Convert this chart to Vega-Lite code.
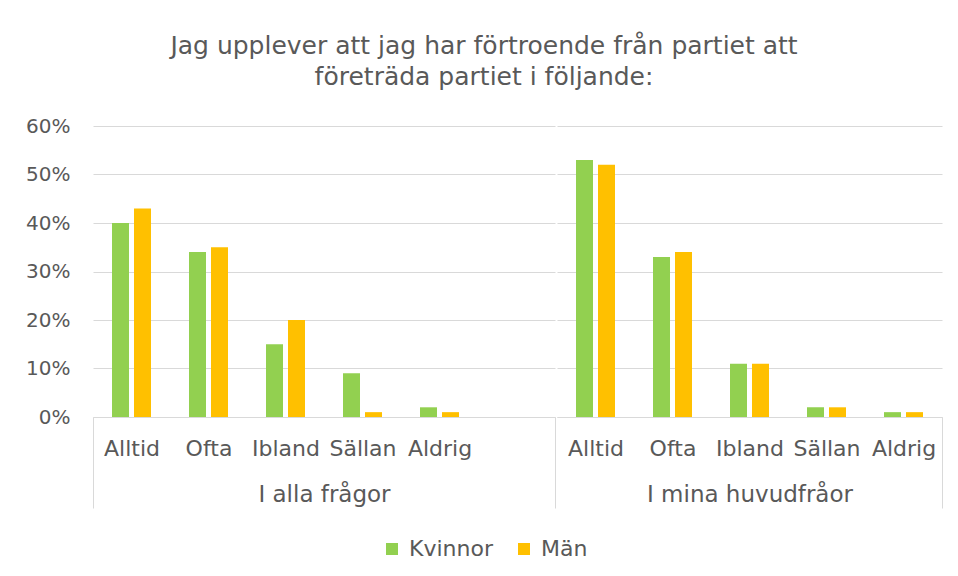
{
  "$schema": "https://vega.github.io/schema/vega-lite/v6.json",
  "background": "white",
  "padding": {"left": 25, "top": 34, "right": 18, "bottom": 10},
  "title": {
    "text": ["Jag upplever att jag har förtroende från partiet att", "företräda partiet i följande:"],
    "anchor": "middle",
    "fontSize": 25,
    "font": "DejaVu Sans",
    "fontWeight": "normal",
    "color": "#595959",
    "lineHeight": 31,
    "offset": 26
  },
  "data": {
    "values": [
      {"group": "I alla frågor", "cat": "Alltid", "sex": "Kvinnor", "value": 0.40},
      {"group": "I alla frågor", "cat": "Alltid", "sex": "Män", "value": 0.43},
      {"group": "I alla frågor", "cat": "Ofta", "sex": "Kvinnor", "value": 0.34},
      {"group": "I alla frågor", "cat": "Ofta", "sex": "Män", "value": 0.35},
      {"group": "I alla frågor", "cat": "Ibland", "sex": "Kvinnor", "value": 0.15},
      {"group": "I alla frågor", "cat": "Ibland", "sex": "Män", "value": 0.20},
      {"group": "I alla frågor", "cat": "Sällan", "sex": "Kvinnor", "value": 0.09},
      {"group": "I alla frågor", "cat": "Sällan", "sex": "Män", "value": 0.01},
      {"group": "I alla frågor", "cat": "Aldrig", "sex": "Kvinnor", "value": 0.02},
      {"group": "I alla frågor", "cat": "Aldrig", "sex": "Män", "value": 0.01},
      {"group": "I mina huvudfråor", "cat": "Alltid", "sex": "Kvinnor", "value": 0.53},
      {"group": "I mina huvudfråor", "cat": "Alltid", "sex": "Män", "value": 0.52},
      {"group": "I mina huvudfråor", "cat": "Ofta", "sex": "Kvinnor", "value": 0.33},
      {"group": "I mina huvudfråor", "cat": "Ofta", "sex": "Män", "value": 0.34},
      {"group": "I mina huvudfråor", "cat": "Ibland", "sex": "Kvinnor", "value": 0.11},
      {"group": "I mina huvudfråor", "cat": "Ibland", "sex": "Män", "value": 0.11},
      {"group": "I mina huvudfråor", "cat": "Sällan", "sex": "Kvinnor", "value": 0.02},
      {"group": "I mina huvudfråor", "cat": "Sällan", "sex": "Män", "value": 0.02},
      {"group": "I mina huvudfråor", "cat": "Aldrig", "sex": "Kvinnor", "value": 0.01},
      {"group": "I mina huvudfråor", "cat": "Aldrig", "sex": "Män", "value": 0.01}
    ]
  },
  "spacing": 0,
  "resolve": {"scale": {"x": "independent", "xOffset": "independent", "y": "shared", "color": "shared"}},
  "hconcat": [
    {
      "width": 462,
      "height": 291,
      "transform": [{"filter": "datum.group === 'I alla frågor'"}],
      "mark": {"type": "bar"},
      "encoding": {
        "x": {
          "field": "cat", "type": "nominal",
          "scale": {"domain": ["Alltid", "Ofta", "Ibland", "Sällan", "Aldrig", " "], "paddingInner": 0, "paddingOuter": 0},
          "axis": {
            "title": "I alla frågor",
            "labelAngle": 0,
            "tickBand": "extent",
            "tickSize": 91,
            "tickColor": {"condition": {"test": "datum.value == null || datum.value === ' '", "value": "#d9d9d9"}, "value": "transparent"},
            "labelPadding": -70,
            "titlePadding": -25
          }
        },
        "xOffset": {
          "field": "sex", "type": "nominal",
          "scale": {"domain": ["Kvinnor", "Män"], "paddingInner": 0.227, "paddingOuter": 0.864}
        },
        "y": {
          "field": "value", "type": "quantitative",
          "scale": {"domain": [0, 0.6]},
          "axis": {"title": null, "format": ".0%", "values": [0, 0.1, 0.2, 0.3, 0.4, 0.5, 0.6], "labelPadding": 23}
        },
        "color": {
          "field": "sex", "type": "nominal",
          "scale": {"domain": ["Kvinnor", "Män"], "range": ["#92D050", "#FFC000"]},
          "legend": {"title": null}
        }
      }
    },
    {
      "width": 385,
      "height": 291,
      "transform": [{"filter": "datum.group === 'I mina huvudfråor'"}],
      "mark": {"type": "bar"},
      "encoding": {
        "x": {
          "field": "cat", "type": "nominal",
          "scale": {"domain": ["Alltid", "Ofta", "Ibland", "Sällan", "Aldrig"], "paddingInner": 0, "paddingOuter": 0},
          "axis": {
            "title": "I mina huvudfråor",
            "labelAngle": 0,
            "tickBand": "extent",
            "tickSize": 91,
            "tickColor": {"condition": {"test": "datum.value === 'Aldrig'", "value": "#d9d9d9"}, "value": "transparent"},
            "labelPadding": -70,
            "titlePadding": -25
          }
        },
        "xOffset": {
          "field": "sex", "type": "nominal",
          "scale": {"domain": ["Kvinnor", "Män"], "paddingInner": 0.227, "paddingOuter": 0.864}
        },
        "y": {
          "field": "value", "type": "quantitative",
          "scale": {"domain": [0, 0.6]},
          "axis": {"title": null, "labels": false, "ticks": false, "domain": false, "values": [0, 0.1, 0.2, 0.3, 0.4, 0.5, 0.6]}
        },
        "color": {
          "field": "sex", "type": "nominal",
          "scale": {"domain": ["Kvinnor", "Män"], "range": ["#92D050", "#FFC000"]},
          "legend": {"title": null}
        }
      }
    }
  ],
  "config": {
    "font": "DejaVu Sans",
    "view": {"stroke": null},
    "axis": {
      "labelFont": "DejaVu Sans",
      "titleFont": "DejaVu Sans",
      "labelColor": "#595959",
      "titleColor": "#595959",
      "titleFontWeight": "normal",
      "gridColor": "#d9d9d9",
      "gridWidth": 1,
      "domainColor": "#d9d9d9",
      "tickColor": "#d9d9d9"
    },
    "axisX": {"labelFontSize": 22, "titleFontSize": 23, "grid": false, "domainWidth": 1},
    "axisY": {"labelFontSize": 20, "ticks": false, "domain": false, "grid": true},
    "legend": {
      "orient": "bottom",
      "direction": "horizontal",
      "symbolType": "square",
      "symbolSize": 144,
      "symbolStrokeWidth": 0,
      "labelFontSize": 22,
      "labelColor": "#595959",
      "labelFont": "DejaVu Sans",
      "columnPadding": 20,
      "labelOffset": 6,
      "offset": 29,
      "layout": {"bottom": {"anchor": "middle"}}
    }
  }
}
